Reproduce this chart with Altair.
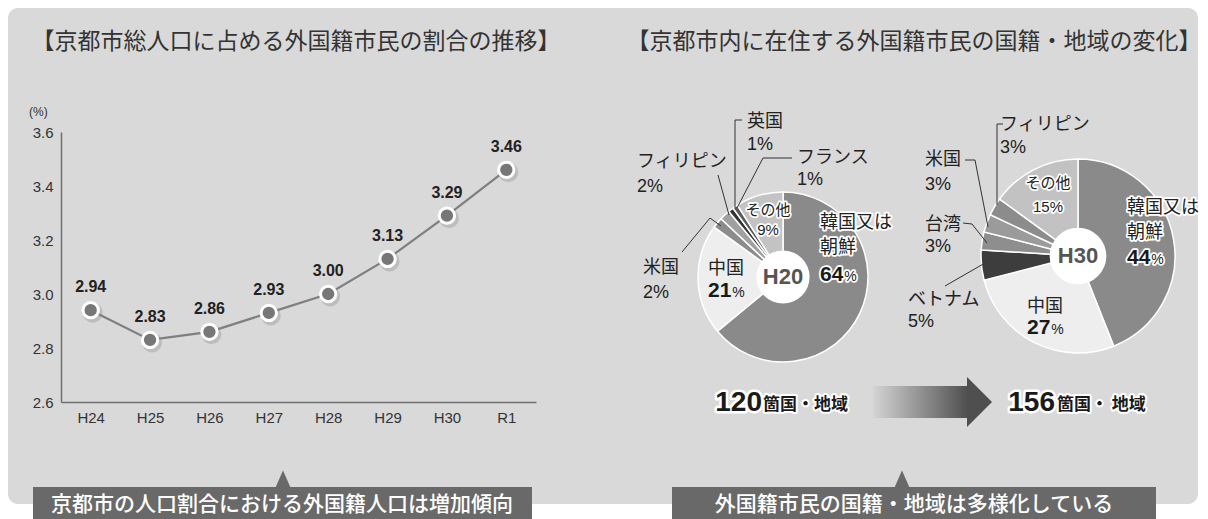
import math
import altair as alt
import pandas as pd

# ---------------- data ----------------
years = ["H24", "H25", "H26", "H27", "H28", "H29", "H30", "R1"]
ratio = [2.94, 2.83, 2.86, 2.93, 3.00, 3.13, 3.29, 3.46]
y_ticks = [2.6, 2.8, 3.0, 3.2, 3.4, 3.6]

h20_names = ["韓国又は朝鮮", "中国", "米国", "フィリピン", "英国", "フランス", "その他"]
h20_share = [64, 21, 2, 2, 1, 1, 9]
h30_names = ["韓国又は朝鮮", "中国", "ベトナム", "台湾", "米国", "フィリピン", "その他"]
h30_share = [44, 27, 5, 3, 3, 3, 15]
pie_years = ["H20", "H30"]
country_counts = [120, 156]
country_units = ["箇国・地域", "箇国・ 地域"]

title_left = "【京都市総人口に占める外国籍市民の割合の推移】"
title_right = "【京都市内に在住する外国籍市民の国籍・地域の変化】"
banner_left = "京都市の人口割合における外国籍人口は増加傾向"
banner_right = "外国籍市民の国籍・地域は多様化している"
unit_label = "(%)"

# ---------------- styles / layout ----------------
W, H = 1192, 511
JP = "Noto Sans CJK JP"
LAT = "Liberation Sans"
PANEL = "#d9d9d9"
BANNER = "#696969"

h20_colors = ["#8a8a8a", "#eeeeee", "#8c8c8c", "#a0a0a0", "#333333", "#5a5a5a", "#c3c3c3"]
h30_colors = ["#8a8a8a", "#eeeeee", "#3d3d3d", "#8e8e8e", "#9b9b9b", "#8c8c8c", "#c2c2c2"]

ONE = pd.DataFrame({"k": [0]})


def text_layer(s, x, y, size, color="#222222", weight="normal", align="center",
               font=JP, halo=None, halo_w=3.5):
    out = []
    common = dict(text=s, fontSize=size, fontWeight=weight, font=font,
                  align=align, baseline="middle")
    if halo:
        out.append(alt.Chart(ONE).mark_text(fill=halo, stroke=halo, strokeWidth=halo_w,
                                            strokeJoin="round", **common)
                   .encode(x=alt.value(x), y=alt.value(y)))
    out.append(alt.Chart(ONE).mark_text(fill=color, **common)
               .encode(x=alt.value(x), y=alt.value(y)))
    return out


def rule(x1, y1, x2, y2, color="#333333", w=1.0):
    return alt.Chart(ONE).mark_rule(color=color, strokeWidth=w).encode(
        x=alt.value(x1), y=alt.value(y1), x2=alt.value(x2), y2=alt.value(y2))


def polyline(pts):
    return [rule(a[0], a[1], b[0], b[1]) for a, b in zip(pts[:-1], pts[1:])]


def pie_layers(names, shares, colors, tag, cx, cy, r, r_in):
    df = pd.DataFrame({"name": names, "share": shares, "order": list(range(len(names)))})
    df["key"] = tag + ":" + df["name"]
    shadow = alt.Chart(ONE).mark_circle(size=math.pi * (r + 1) ** 2, color="#b3b3b3",
                                        opacity=0.6).encode(x=alt.value(cx + 3), y=alt.value(cy + 3))
    arcs = alt.Chart(df).mark_arc(radius=r, stroke="white", strokeWidth=1.5).encode(
        theta=alt.Theta("share:Q", stack=True),
        order=alt.Order("order:Q", sort="ascending"),
        color=alt.Color("key:N", scale=alt.Scale(domain=list(df["key"]), range=colors), legend=None),
        x=alt.value(cx), y=alt.value(cy))
    hole = alt.Chart(ONE).mark_circle(size=math.pi * r_in ** 2, color="white", opacity=1).encode(
        x=alt.value(cx), y=alt.value(cy))
    return [shadow, arcs, hole]


def pct_label(name, share, x, ys, name_size=18, num_size=21, halo=None):
    """name lines + bold number + small % (left aligned)"""
    out = []
    lines = ["韓国又は", "朝鮮"] if name == "韓国又は朝鮮" else [name]
    for ln, yy in zip(lines, ys[:-1]):
        out += text_layer(ln, x, yy, name_size, align="left", halo=halo)
    num = str(share)
    out += text_layer(num, x, ys[-1], num_size, weight="bold", align="left", font=LAT,
                      color="#1a1a1a", halo=halo)
    out += text_layer("%", x + len(num) * 0.556 * num_size + 1, ys[-1] + 2, 14, align="left",
                      font=LAT, halo=halo)
    return out


def small_label(name, share, x, y1, y2, size=18, align="left", halo=None):
    out = text_layer(name, x, y1, size, align=align, halo=halo)
    out += text_layer(f"{share}%", x, y2, size, align=align, font=LAT, halo=halo)
    return out


layers = []

# panel background
layers.append(alt.Chart(ONE).mark_rect(color=PANEL, cornerRadius=10).encode(
    x=alt.value(0), x2=alt.value(1190), y=alt.value(0), y2=alt.value(496)))

# titles
layers += text_layer(title_left, 288, 34, 23, color="#333333")
layers += text_layer(title_right, 906, 34, 23, color="#333333")
layers += text_layer(unit_label, 21, 104, 12, color="#333333", align="left", font=LAT)

# ---------------- line chart ----------------
line_df = pd.DataFrame({"year": years, "ratio": ratio})
xenc = alt.X("year:O", sort=years,
             scale=alt.Scale(type="point", domain=years, range=[53, 528], padding=0.5),
             axis=alt.Axis(title=None, orient="bottom", offset=-(H - 394), domainColor="#707070",
                           domainWidth=1.5, ticks=False, tickSize=0, labelPadding=8,
                           labelFont=LAT, labelFontSize=15, labelColor="#333333",
                           labelAngle=0, grid=False, zindex=1))
yenc = alt.Y("ratio:Q",
             scale=alt.Scale(domain=[2.6, 3.6], range=[394, 124], zero=False, nice=False),
             axis=alt.Axis(title=None, orient="left", offset=-53, values=y_ticks, format=".1f",
                           domainColor="#707070", domainWidth=1.5, ticks=False, tickSize=0,
                           labelPadding=8, labelFont=LAT, labelFontSize=15,
                           labelColor="#333333", grid=False, zindex=1))
base = alt.Chart(line_df).encode(x=xenc, y=yenc)
layers.append(base.mark_line(color="#7f7f7f", strokeWidth=2.2))
layers.append(base.mark_circle(size=400, color="#8a8a8a", opacity=0.35, xOffset=2, yOffset=2.5))
layers.append(base.mark_circle(size=235, color="#777777", opacity=1, stroke="white", strokeWidth=3))
layers.append(base.mark_text(dy=-23, fontSize=16, fontWeight="bold", font=LAT, color="#222222")
              .encode(text=alt.Text("ratio:Q", format=".2f")))

# ---------------- pies ----------------
H20C = (775, 269, 85, 30)
H30C = (1070, 248, 97, 32)
layers += pie_layers(h20_names, h20_share, h20_colors, pie_years[0], *H20C)
layers += pie_layers(h30_names, h30_share, h30_colors, pie_years[1], *H30C)
layers += text_layer(pie_years[0], H20C[0], H20C[1], 22, color="#555555", weight="bold", font=LAT)
layers += text_layer(pie_years[1], H30C[0], H30C[1], 22, color="#555555", weight="bold", font=LAT)

s20 = dict(zip(h20_names, h20_share))
s30 = dict(zip(h30_names, h30_share))

# H20 labels
layers += pct_label("韓国又は朝鮮", s20["韓国又は朝鮮"], 812, [215, 240, 267], halo="white")
layers += pct_label("中国", s20["中国"], 700, [261, 283])
layers += small_label("その他", s20["その他"], 760, 202, 222, size=15, align="center", halo="white")
layers += small_label("英国", s20["英国"], 739, 114, 137)
layers += small_label("フランス", s20["フランス"], 789, 150, 172)
layers += small_label("フィリピン", s20["フィリピン"], 629, 154, 179)
layers += small_label("米国", s20["米国"], 635, 260, 285)
layers += polyline([(734, 112), (727, 112), (727, 200)])
layers += polyline([(784, 150), (755, 150), (729, 200)])
layers += polyline([(710, 167), (721, 207)])
layers += polyline([(674, 244), (702, 210), (713, 218)])

# H30 labels
layers += pct_label("韓国又は朝鮮", s30["韓国又は朝鮮"], 1119, [200, 225, 250], halo="white")
layers += pct_label("中国", s30["中国"], 1019, [299, 320])
layers += small_label("その他", s30["その他"], 1040, 175, 199, size=15, align="center", halo="white")
layers += small_label("フィリピン", s30["フィリピン"], 992, 117, 140)
layers += small_label("米国", s30["米国"], 917, 152, 177)
layers += small_label("台湾", s30["台湾"], 917, 217, 239)
layers += small_label("ベトナム", s30["ベトナム"], 900, 292, 314)
layers += polyline([(995, 116), (989, 116), (989, 197)])
layers += polyline([(957, 152), (967, 152), (980, 219)])
layers += polyline([(955, 215), (964, 216), (979, 235)])
layers += polyline([(937, 278), (977, 255)])

# country counts + arrow
layers += text_layer(str(country_counts[0]), 754, 395, 28, color="#1a1a1a", weight="bold",
                     align="right", font=LAT, halo="white", halo_w=5)
layers += text_layer(country_units[0], 755, 397, 17, color="#1a1a1a", weight="bold",
                     align="left", halo="white", halo_w=4)
layers += text_layer(str(country_counts[1]), 1047, 395, 28, color="#1a1a1a", weight="bold",
                     align="right", font=LAT, halo="white", halo_w=5)
layers += text_layer(country_units[1], 1049, 397, 17, color="#1a1a1a", weight="bold",
                     align="left", halo="white", halo_w=4)

grad = alt.LinearGradient(gradient="linear", x1=0, x2=1, y1=0, y2=0,
                          stops=[alt.GradientStop(color="#d4d4d4", offset=0),
                                 alt.GradientStop(color="#4f4f4f", offset=1)])
layers.append(alt.Chart(ONE).mark_rect(color=grad).encode(
    x=alt.value(865), x2=alt.value(960), y=alt.value(378), y2=alt.value(410)))
layers.append(alt.Chart(ONE).mark_point(shape="M-0.5,-1L0.5,0L-0.5,1Z", size=2500, filled=True,
                                        color="#4f4f4f", opacity=1, strokeWidth=0)
              .encode(x=alt.value(971.5), y=alt.value(394)))

# banners
TRI = "M-0.88,1L0,-1L0.88,1Z"
for (bx1, bx2, tx, cx, txt) in [(25, 524, 274, 275, banner_left), (664, 1148, 906, 894, banner_right)]:
    layers.append(alt.Chart(ONE).mark_rect(color=BANNER).encode(
        x=alt.value(bx1), x2=alt.value(bx2), y=alt.value(479), y2=alt.value(515)))
    layers.append(alt.Chart(ONE).mark_point(shape=TRI, size=289, filled=True, color=BANNER,
                                            opacity=1, strokeWidth=0)
                  .encode(x=alt.value(cx), y=alt.value(471)))
    layers += text_layer(txt, tx, 497, 21, color="white", weight=500)

chart = alt.layer(*layers).resolve_scale(color="independent", theta="independent").properties(
    width=W, height=H, autosize=alt.AutoSizeParams(type="none"), padding=0, background="white"
).configure_view(stroke=None)

chart.save("out.html", embed_options={"renderer": "svg", "actions": False})
